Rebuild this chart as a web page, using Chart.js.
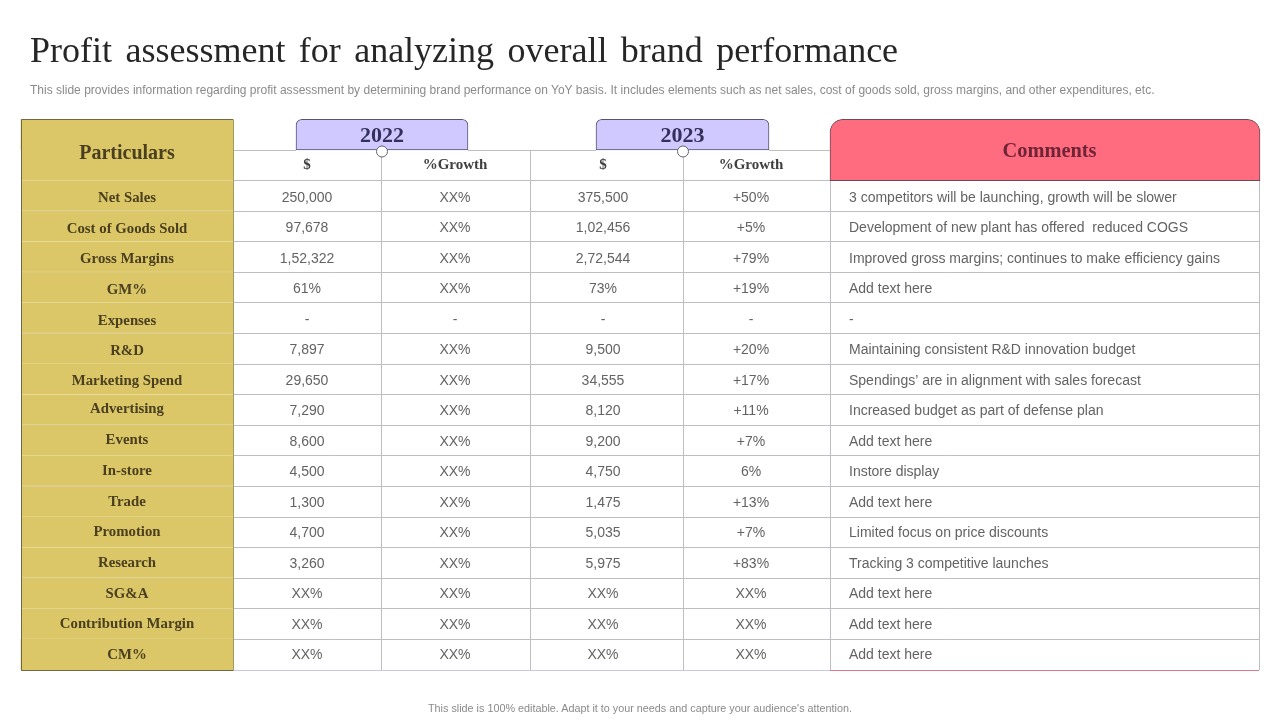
<!DOCTYPE html>
<html>
<head>
<meta charset="utf-8">
<title>Profit assessment</title>
<script src="https://cdn.jsdelivr.net/npm/chart.js@4"></script>
<style>
html,body{margin:0;padding:0;background:#fff;width:1280px;height:720px;overflow:hidden}
#wrap{position:relative;width:1280px;height:720px}
canvas{position:absolute;left:0;top:0}
.t{position:absolute;white-space:pre;margin:0}
#title{left:30px;top:29px;font:36px/42px "Liberation Serif",serif;color:#262626;word-spacing:4.4px;font-weight:normal}
#sub{left:30px;top:83px;font:12px/15px "Liberation Sans",sans-serif;color:#8a8a8a;letter-spacing:0.01px}
#foot{left:0;width:1280px;text-align:center;top:701px;font:10.8px/14px "Liberation Sans",sans-serif;color:#8a8a8a}
</style>
</head>
<body>
<div id="wrap">
<canvas id="c" width="1280" height="720"></canvas>
<h1 class="t" id="title">Profit assessment for analyzing overall brand performance</h1>
<p class="t" id="sub">This slide provides information regarding profit assessment by determining brand performance on YoY basis. It includes elements such as net sales, cost of goods sold, gross margins, and other expenditures, etc.</p>
<p class="t" id="foot">This slide is 100% editable. Adapt it to your needs and capture your audience's attention.</p>
</div>
<script>
const particulars = ["Net Sales","Cost of Goods Sold","Gross Margins","GM%","Expenses","R&D","Marketing Spend","Advertising","Events","In-store","Trade","Promotion","Research","SG&A","Contribution Margin","CM%"];
const values2022 = ["250,000","97,678","1,52,322","61%","-","7,897","29,650","7,290","8,600","4,500","1,300","4,700","3,260","XX%","XX%","XX%"];
const growth2022 = ["XX%","XX%","XX%","XX%","-","XX%","XX%","XX%","XX%","XX%","XX%","XX%","XX%","XX%","XX%","XX%"];
const values2023 = ["375,500","1,02,456","2,72,544","73%","-","9,500","34,555","8,120","9,200","4,750","1,475","5,035","5,975","XX%","XX%","XX%"];
const growth2023 = ["+50%","+5%","+79%","+19%","-","+20%","+17%","+11%","+7%","6%","+13%","+7%","+83%","XX%","XX%","XX%"];
const comments = ["3 competitors will be launching, growth will be slower","Development of new plant has offered  reduced COGS","Improved gross margins; continues to make efficiency gains","Add text here","-","Maintaining consistent R&D innovation budget","Spendings\u2019 are in alignment with sales forecast","Increased budget as part of defense plan","Add text here","Instore display","Add text here","Limited focus on price discounts","Tracking 3 competitive launches","Add text here","Add text here","Add text here"];
const years = ["2022","2023"];
const subHeaders = ["$","%Growth","$","%Growth"];
const headerRows = ["Period","Measure"];
const rowLabels = headerRows.concat(particulars);

/* table geometry on the x scale */
const X = {min:21,max:1259,label:233,c1:381,c2:530,c3:683,c4:830,tabA:[296,468],tabB:[596,769]};
const textX = {label:127,v22:307,g22:455,v23:603,g23:751,comment:849,commentHead:1049.5};
const labelNudge = [1.5,2,2,2,2,2,1,-1,-1,0,0,-1,0,0,0,0];
const n = rowLabels.length;
const rowsOnly = (fn) => rowLabels.map((_, i) => fn(i));
const RULE = '#bdbdc2';

const tablePlugin = {
  id:'tableText',
  afterDatasetsDraw(chart){
    const {ctx, scales:{x,y}} = chart;
    const px = v => x.getPixelForValue(v), py = v => y.getPixelForValue(v);
    ctx.save();
    // rule under the year tabs, between them
    ctx.strokeStyle=RULE; ctx.lineWidth=1;
    const ruleY=Math.round(py(0.5))+0.5;
    [[X.label,X.tabA[0]],[X.tabA[1],X.tabB[0]],[X.tabB[1],X.c4]].forEach(([a,b])=>{
      ctx.beginPath(); ctx.moveTo(px(a),ruleY); ctx.lineTo(px(b),ruleY); ctx.stroke();
    });
    // frames
    ctx.strokeStyle='#6f6745'; ctx.lineWidth=1;
    const fx=px(X.min)+0.5, fr=px(X.label), ft=Math.round(py(-0.5))+0.5, fb=Math.round(py(n-0.5))+0.5;
    ctx.beginPath();
    ctx.moveTo(fr,ft); ctx.lineTo(fx,ft); ctx.lineTo(fx,fb); ctx.lineTo(fr,fb); ctx.stroke();
    ctx.strokeStyle='#a39a62';
    ctx.beginPath(); ctx.moveTo(fr+0.5,ft); ctx.lineTo(fr+0.5,fb); ctx.stroke();
    // bottom rules
    ctx.strokeStyle='#c9c9dc'; ctx.beginPath(); ctx.moveTo(fr+1,fb); ctx.lineTo(px(X.c4),fb); ctx.stroke();
    ctx.strokeStyle='#d9798f'; ctx.beginPath(); ctx.moveTo(px(X.c4),fb); ctx.lineTo(px(X.max),fb); ctx.stroke();
    // joints under the year tabs
    [X.c1+1,X.c3].forEach(v=>{
      ctx.beginPath(); ctx.arc(px(v),py(0.5)+1.5,5.5,0,Math.PI*2);
      ctx.fillStyle='#fff'; ctx.fill(); ctx.strokeStyle='#66636f'; ctx.lineWidth=1; ctx.stroke();
    });
    ctx.textBaseline='middle'; ctx.textAlign='center';
    // headers
    ctx.fillStyle='#4a4020'; ctx.font='bold 20px "Liberation Serif",serif';
    ctx.fillText('Particulars',px(textX.label),py(0.5)+3.5);
    ctx.fillStyle='#33305a'; ctx.font='bold 22px "Liberation Serif",serif';
    ctx.fillText(years[0],px((X.tabA[0]+X.tabA[1])/2),py(0)+1.5);
    ctx.fillText(years[1],px((X.tabB[0]+X.tabB[1])/2),py(0)+1.5);
    ctx.fillStyle='#6e2436'; ctx.font='bold 20.4px "Liberation Serif",serif';
    ctx.fillText('Comments',px(textX.commentHead),py(0.5)+2);
    ctx.fillStyle='#404040'; ctx.font='bold 15px "Liberation Serif",serif';
    [textX.v22,textX.g22,textX.v23,textX.g23].forEach((v,i)=>ctx.fillText(subHeaders[i],px(v),py(1)));
    // rows
    particulars.forEach((name,i)=>{
      const r=i+headerRows.length;
      ctx.fillStyle='#4a4020'; ctx.font='bold 14.8px "Liberation Serif",serif';
      ctx.textAlign='center';
      ctx.fillText(name,px(textX.label),py(r)+labelNudge[i]+0.5);
      const ty=py(r)+2-1.5*i/15;
      ctx.fillStyle='#636363'; ctx.font='14px "Liberation Sans",sans-serif';
      ctx.fillText(values2022[i],px(textX.v22),ty);
      ctx.fillText(growth2022[i],px(textX.g22),ty);
      ctx.fillText(values2023[i],px(textX.v23),ty);
      ctx.fillText(growth2023[i],px(textX.g23),ty);
      ctx.textAlign='left';
      ctx.fillText(comments[i],px(textX.comment),ty);
    });
    ctx.restore();
  }
};

const bar = (label,data,extra) => Object.assign({type:'bar',label,data,barPercentage:1,categoryPercentage:1,grouped:false,borderSkipped:false,clip:false},extra);

new Chart(document.getElementById('c'),{
  type:'bar',
  data:{
    labels:rowLabels,
    datasets:[
      bar('Particulars column',rowsOnly(()=>[X.min,X.label]),{
        order:3, backgroundColor:'#dcc768', borderColor:'#e9dfa2',
        borderWidth:c=>({top:0,left:0,right:0,bottom:(c.dataIndex>=1&&c.dataIndex<n-1)?1:0})
      }),
      bar('Header mask',rowsOnly(i=>i===0?[X.label,X.max+1]:null),{order:4,backgroundColor:'#ffffff'}),
      bar('2022 tab',rowsOnly(i=>i===0?X.tabA:null),{order:2,backgroundColor:'#cfc9ff',borderColor:'#55536e',
        borderWidth:{top:1,left:1,right:1,bottom:1},borderRadius:{topLeft:6,topRight:6,bottomLeft:0,bottomRight:0}}),
      bar('2023 tab',rowsOnly(i=>i===0?X.tabB:null),{order:2,backgroundColor:'#cfc9ff',borderColor:'#55536e',
        borderWidth:{top:1,left:1,right:1,bottom:1},borderRadius:{topLeft:6,topRight:6,bottomLeft:0,bottomRight:0}}),
      bar('Comments header',rowsOnly(i=>i<2?[X.c4,X.max+1]:null),{order:2,backgroundColor:'#ff6b7f',borderColor:'#6b4a55',
        borderWidth:c=>c.dataIndex===0?{top:1,left:1,right:1,bottom:0}:{top:0,left:1,right:1,bottom:1},
        borderRadius:c=>c.dataIndex===0?{topLeft:13,topRight:13,bottomLeft:0,bottomRight:0}:0})
    ]
  },
  options:{
    indexAxis:'y',
    responsive:false,
    animation:false,
    devicePixelRatio:1,
    layout:{padding:{left:21,right:21,top:119.41,bottom:50}},
    plugins:{legend:{display:false},title:{display:false},tooltip:{enabled:false}},
    scales:{
      x:{type:'linear',min:X.min,max:X.max,
        afterBuildTicks:s=>{s.ticks=[X.min,X.label,X.c1,X.c2,X.c3,X.c4,X.max].map(value=>({value}));},
        border:{display:false},
        ticks:{display:false},
        grid:{color:RULE,lineWidth:1,drawTicks:false}},
      y:{type:'category',offset:true,
        border:{display:false},
        ticks:{display:false},
        grid:{offset:true,drawTicks:false,lineWidth:1,color:c=>c.index===0?'rgba(0,0,0,0)':RULE}}
    }
  },
  plugins:[tablePlugin]
});
</script>
</body>
</html>
